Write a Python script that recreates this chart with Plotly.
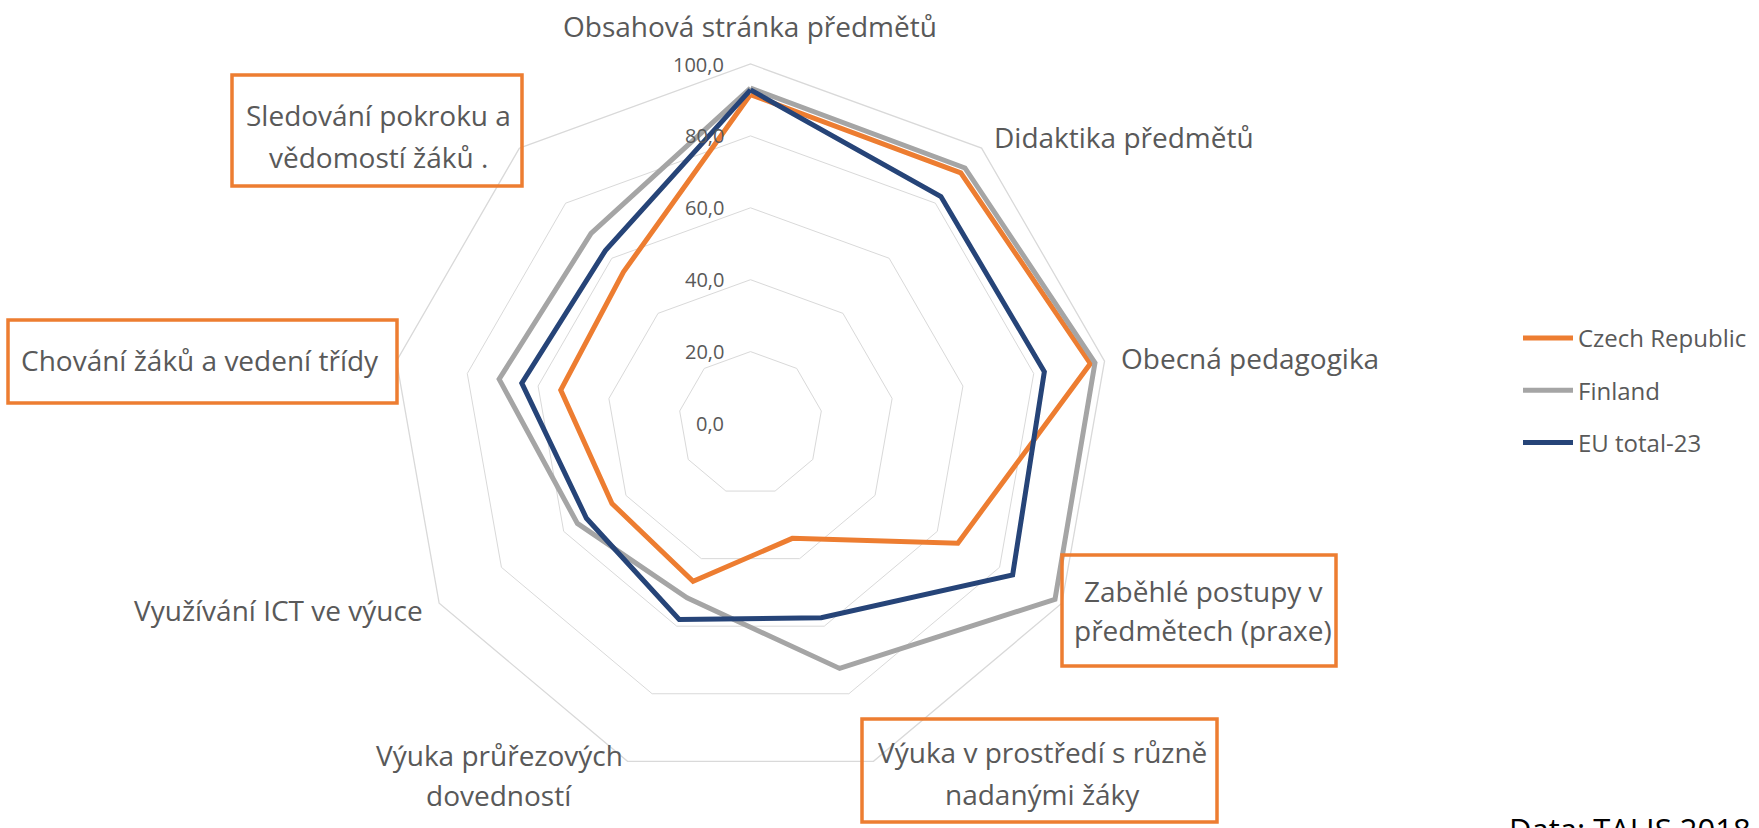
import plotly.graph_objects as go

W, H = 1759, 828

categories = [
    "Obsahová stránka předmětů",
    "Didaktika předmětů",
    "Obecná pedagogika",
    "Zaběhlé postupy v předmětech (praxe)",
    "Výuka v prostředí s různě nadanými žáky",
    "Výuka průřezových dovedností",
    "Využívání ICT ve výuce",
    "Chování žáků a vedení třídy",
    "Sledování pokroku a vědomostí žáků .",
]
czech = [91.5, 91.0, 96.0, 66.6, 34.0, 46.7, 44.5, 53.6, 55.0]
finland = [93.3, 92.8, 97.3, 97.8, 72.5, 51.6, 55.6, 71.0, 69.0]
eu = [92.8, 82.4, 83.0, 84.2, 57.5, 58.0, 52.7, 64.6, 62.8]
series_names = ["Czech Republic", "Finland", "EU total-23"]
radial_ticks = [0, 20, 40, 60, 80, 100]
radial_ticktext = ["0,0", "20,0", "40,0", "60,0", "80,0", "100,0"]

colors = ["#ED7D31", "#A5A5A5", "#264478"]
TXT = "#595959"
FONT = "Open Sans"


def px(x):
    return x / W


def py(y):
    return 1 - y / H


fig = go.Figure()
for name, vals, col in zip(series_names, [czech, finland, eu], colors):
    fig.add_trace(go.Scatterpolar(
        r=vals + vals[:1],
        theta=categories + categories[:1],
        mode="lines",
        name=name,
        legendgroup=name,
        line=dict(color=col, width=5),
        hoverinfo="skip",
    ))

cx, cy, R = 750.5, 423.5, 359.5
fig.update_layout(
    width=W, height=H,
    margin=dict(l=0, r=0, t=0, b=0),
    paper_bgcolor="white",
    plot_bgcolor="white",
    font=dict(family=FONT, color=TXT),
    polar=dict(
        domain=dict(x=[px(cx - R), px(cx + R)], y=[py(cy + R), py(cy - R)]),
        bgcolor="white",
        gridshape="linear",
        angularaxis=dict(
            rotation=90, direction="clockwise",
            showgrid=False, showline=True, linecolor="#D9D9D9", linewidth=1.3,
            showticklabels=False, ticks="",
        ),
        radialaxis=dict(
            range=[0, 100], angle=90,
            tickvals=radial_ticks,
            showticklabels=False, ticks="",
            showline=False, gridcolor="#D9D9D9", gridwidth=1.3,
        ),
    ),
    legend=dict(
        x=px(1518), y=py(316), xanchor="left", yanchor="top",
        font=dict(size=24, color=TXT, family=FONT),
        tracegroupgap=18, bgcolor="rgba(0,0,0,0)",
        itemwidth=50,
    ),
    showlegend=True,
)

# radial value labels, placed at each grid level along the top spoke
for v, t in zip(radial_ticks, radial_ticktext):
    fig.add_annotation(
        text=t, x=px(cx - 25), y=py(cy - R * v / 100.0), xref="paper", yref="paper",
        xanchor="right", yanchor="middle", showarrow=False,
        font=dict(size=20, color=TXT, family=FONT),
    )

labels = [
    ("Obsahová stránka předmětů", 750, 26, "center"),
    ("Didaktika předmětů", 992, 137, "left"),
    ("Obecná pedagogika", 1119, 358, "left"),
    ("Zaběhlé postupy v", 1203, 591, "center"),
    ("předmětech (praxe)", 1203, 630, "center"),
    ("Výuka v prostředí s různě", 1042, 752, "center"),
    ("nadanými žáky", 1042, 794, "center"),
    ("Výuka průřezových", 499, 755, "center"),
    ("dovedností", 499, 795, "center"),
    ("Využívání ICT ve výuce", 425, 610, "right"),
    ("Chování žáků a vedení třídy", 381, 360, "right"),
    ("Sledování pokroku a", 378, 115, "center"),
    ("vědomostí žáků .", 378, 157, "center"),
]
for t, x, y, anc in labels:
    fig.add_annotation(
        text=t, x=px(x), y=py(y), xref="paper", yref="paper",
        xanchor=anc, yanchor="middle", showarrow=False,
        font=dict(size=28, color=TXT, family=FONT),
    )

fig.add_annotation(
    text="Data: TALIS 2018", x=px(1507), y=py(806), xref="paper", yref="paper",
    xanchor="left", yanchor="top", showarrow=False,
    font=dict(size=31, color="#000000", family=FONT),
)

boxes = [(232, 75, 522, 186), (8, 320, 397, 403), (1062, 555, 1336, 666), (862, 719, 1217, 822)]
for x0, y0, x1, y1 in boxes:
    fig.add_shape(
        type="rect", xref="paper", yref="paper",
        x0=px(x0), x1=px(x1), y0=py(y1), y1=py(y0),
        line=dict(color="#ED7D31", width=3.5), fillcolor="rgba(0,0,0,0)",
    )

fig.write_html("out.html", config={"displayModeBar": False})

# remove the browser's default page margin so the figure sits at (0, 0)
with open("out.html", "r", encoding="utf-8") as f:
    html = f.read()
html = html.replace("<body>", '<body style="margin:0;padding:0;overflow:hidden;">', 1)
with open("out.html", "w", encoding="utf-8") as f:
    f.write(html)
